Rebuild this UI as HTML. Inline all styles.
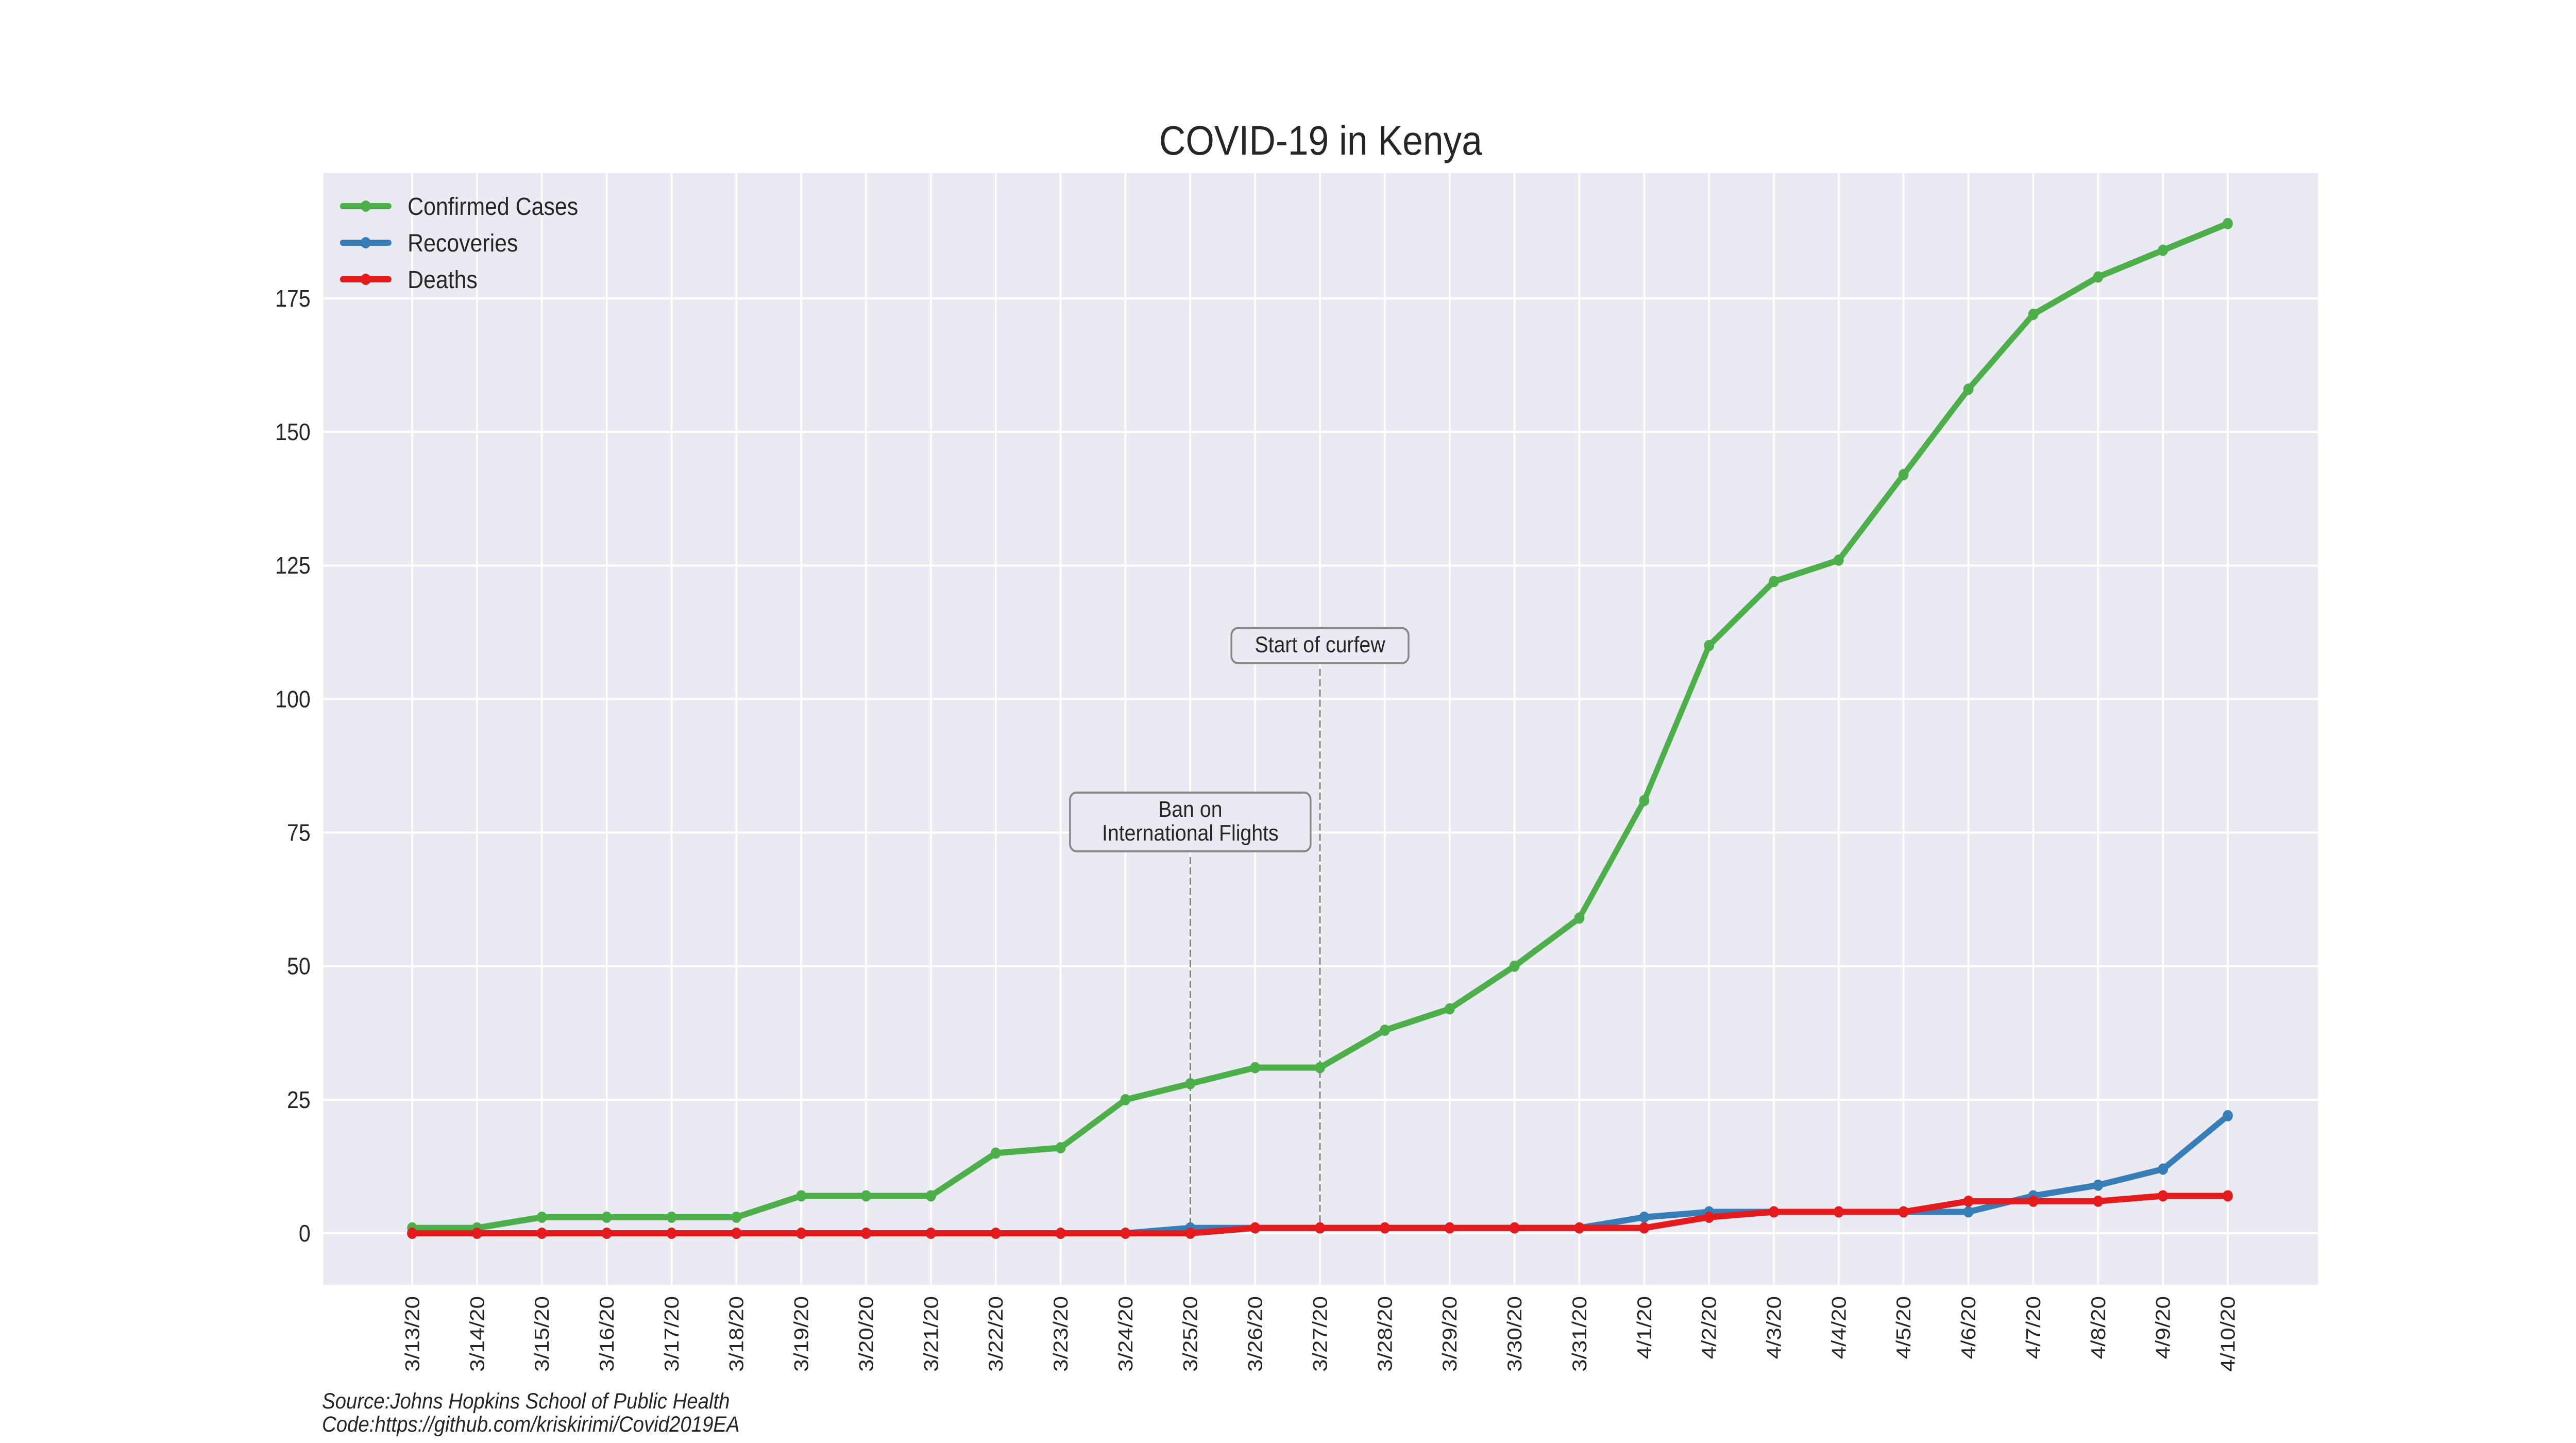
<!DOCTYPE html>
<html><head><meta charset="utf-8"><style>
html,body{margin:0;padding:0;background:#fff;overflow:hidden;width:100%;height:100%;}
svg{display:block;font-family:"Liberation Sans",Arial,sans-serif;width:100vw;height:100vh;}
</style></head><body>
<svg id="chart" viewBox="0 0 5600 2800" preserveAspectRatio="none" xmlns="http://www.w3.org/2000/svg">
<rect x="0" y="0" width="5600" height="2800" fill="#fff"/>
<rect x="703" y="336" width="4336" height="2157" fill="#eaeaf2"/>
<g id="grid"></g>
<g id="annot"></g>
<g id="series"></g>
<g id="axes"></g>
<text x="2871" y="300" font-size="80" text-anchor="middle" fill="#262626">COVID-19 in Kenya</text>
<g id="legend"></g>
<text x="700" y="2733" font-size="43" font-style="italic" fill="#262626">Source:Johns Hopkins School of Public Health</text>
<text x="700" y="2778" font-size="43" font-style="italic" fill="#262626">Code:https://github.com/kriskirimi/Covid2019EA</text>
</svg>
<script>
const dates = ["3/13/20","3/14/20","3/15/20","3/16/20","3/17/20","3/18/20","3/19/20","3/20/20","3/21/20","3/22/20","3/23/20","3/24/20","3/25/20","3/26/20","3/27/20","3/28/20","3/29/20","3/30/20","3/31/20","4/1/20","4/2/20","4/3/20","4/4/20","4/5/20","4/6/20","4/7/20","4/8/20","4/9/20","4/10/20"];
const confirmed = [1,1,3,3,3,3,7,7,7,15,16,25,28,31,31,38,42,50,59,81,110,122,126,142,158,172,179,184,189];
const recoveries = [0,0,0,0,0,0,0,0,0,0,0,0,1,1,1,1,1,1,1,3,4,4,4,4,4,7,9,12,22];
const deaths = [0,0,0,0,0,0,0,0,0,0,0,0,0,1,1,1,1,1,1,1,3,4,4,4,6,6,6,7,7];
const yTicks = [0,25,50,75,100,125,150,175];
const seriesNames = ["Confirmed Cases","Recoveries","Deaths"];
const annotations = [{date:"3/25/20", lines:["Ban on","International Flights"], y:77},{date:"3/27/20", lines:["Start of curfew"], y:110}];

const NS="http://www.w3.org/2000/svg";
const X0=896, X1=4843, Y0=2393, PERU=10.366;
function xs(i){return X0+(X1-X0)*i/(dates.length-1);}
function ys(v){return Y0-v*PERU;}
function mk(tag,attrs,parent){const e=document.createElementNS(NS,tag);for(const k in attrs)e.setAttribute(k,attrs[k]);parent.appendChild(e);return e;}
const grid=document.getElementById('grid'),axes=document.getElementById('axes'),ser=document.getElementById('series'),ann=document.getElementById('annot'),leg=document.getElementById('legend');
dates.forEach((d,i)=>{
  const l=mk('line',{x1:xs(i),x2:xs(i),y1:336,y2:2493,stroke:'#fff','stroke-width':4},grid);
  
  
  const t=mk('text',{transform:`translate(${xs(i)+15},2515) rotate(-90)`,'text-anchor':'end','font-size':44,fill:'#262626'},axes);
  t.textContent=d;
  
  
});
yTicks.forEach(v=>{
  const l=mk('line',{x1:703,x2:5039,y1:ys(v),y2:ys(v),stroke:'#fff','stroke-width':4},grid);
  
  
  const t=mk('text',{x:675,y:ys(v)+16,'text-anchor':'end','font-size':46,fill:'#262626'},axes);
  t.textContent=v;
  
  
});
annotations.forEach(a=>{
  const i=dates.indexOf(a.date), x=xs(i), yc=ys(a.y);
  const lh=46, h=a.lines.length*lh+22;
  const w=Math.max(...a.lines.map(s=>s.length))*23+40;
  const g=mk('g',{},ann);
  
  
  mk('rect',{x:x-w/2,y:yc-h/2,width:w,height:h,rx:14,fill:'#eaeaf2',stroke:'#888','stroke-width':4},g);
  a.lines.forEach((s,k)=>{const t=mk('text',{x:x,y:yc-h/2+11+lh*(k+1)-10,'text-anchor':'middle','font-size':44,fill:'#262626'},g);t.textContent=s;});
  mk('line',{x1:x,x2:x,y1:yc+h/2+11,y2:ys(0),stroke:'#777','stroke-width':3,'stroke-dasharray':'14,6'},g);
});
const cols=['#4daf4a','#377eb8','#e41a1c'];
[confirmed,recoveries,deaths].forEach((arr,s)=>{
  const g=mk('g',{},ser);
  
  
  mk('polyline',{points:arr.map((v,i)=>xs(i)+','+ys(v)).join(' '),fill:'none',stroke:cols[s],'stroke-width':12,'stroke-linejoin':'round','stroke-linecap':'round'},g);
  arr.forEach((v,i)=>{
    const c=mk('circle',{cx:xs(i),cy:ys(v),r:11,fill:cols[s]},g);
    
    
  });
  const ly=400+s*71;
  const e=mk('g',{},leg);
  
  
  mk('line',{x1:745,x2:845,y1:ly,y2:ly,stroke:cols[s],'stroke-width':12,'stroke-linecap':'round'},e);
  mk('circle',{cx:795,cy:ly,r:11,fill:cols[s]},e);
  const t=mk('text',{x:886,y:ly+17,'font-size':48,fill:'#262626'},e);t.textContent=seriesNames[s];
});
</script>
</body></html>
